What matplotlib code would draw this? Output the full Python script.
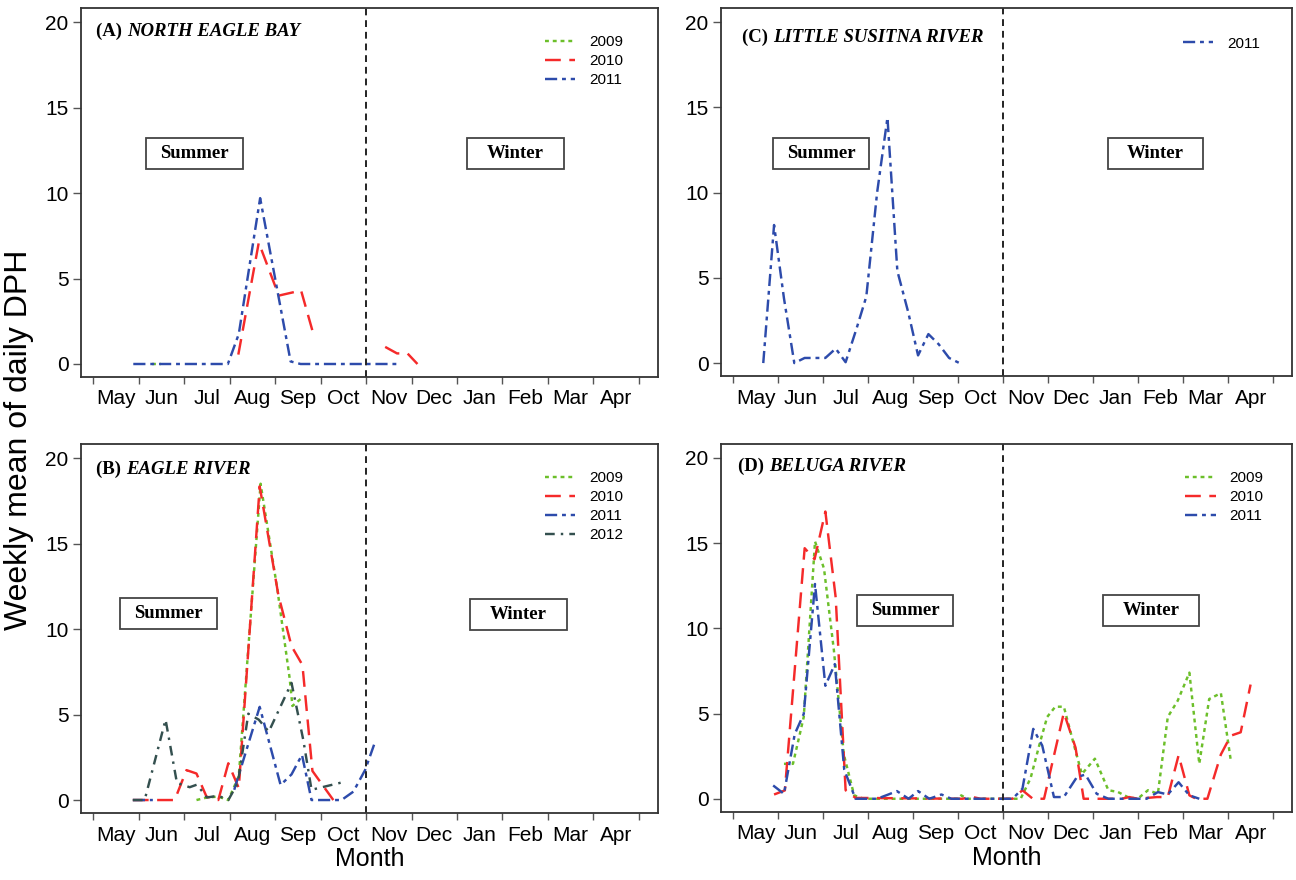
import numpy as np
import matplotlib.pyplot as plt
from matplotlib.patches import Rectangle

plt.rcParams['font.family'] = ['Liberation Sans', 'DejaVu Sans']

nan = np.nan

# ---- data: x = months since 1 May, y = weekly mean of daily DPH ----
month_labels = ['May', 'Jun', 'Jul', 'Aug', 'Sep', 'Oct',
                'Nov', 'Dec', 'Jan', 'Feb', 'Mar', 'Apr']
y_ticks = [0, 5, 10, 15, 20]

# (A) North Eagle Bay
a09_x = [1.29, 1.49]
a09_y = [0, 0]
a10_x = [3.19, 3.64, 4.08, 4.57, 4.82, nan, 6.42, 6.68, 6.91, 7.13]
a10_y = [0.55, 7.1, 4.0, 4.3, 1.95, nan, 1.0, 0.62, 0.62, 0.0]
a11_x = [0.88, 2.96, 3.20, 3.67, 4.34, 4.56, 6.68]
a11_y = [0, 0, 1.75, 9.7, 0.15, 0, 0]

# (B) Eagle River
b09_x = [2.27, 2.5, 2.75, 2.97, 3.2, 3.68, 4.05, 4.32, 4.38, 4.6]
b09_y = [0, 0.15, 0.2, 0, 1.4, 18.5, 12.3, 7.1, 5.5, 6.0]
b10_x = [0.87, 1.79, 2.05, 2.27, 2.49, 2.75, 2.97, 3.2, 3.66, 4.07, 4.36,
         4.6, 4.82, 5.28]
b10_y = [0, 0, 1.75, 1.55, 0.2, 0, 2.15, 0.7, 18.35, 12.0, 9.0,
         7.9, 1.7, 0]
b11_x = [0.87, 1.31, nan, 3.1, 3.66, 4.12, 4.36, 4.59, 4.8, 5.46, 5.72,
         5.98, 6.2]
b11_y = [0, 0, nan, 0.6, 5.45, 0.88, 1.5, 2.64, 0, 0, 0.49,
         1.76, 3.42]
b12_x = [0.87, 1.13, 1.59, 1.84, 2.12, 2.28, 2.5, 2.75, 2.97, 3.18, 3.41,
         3.64, 3.86, 4.36, 4.62, 4.8, 5.5]
b12_y = [0, 0, 4.7, 1.0, 0.75, 0.9, 0.15, 0.25, 0, 1.0, 5.05,
         4.7, 4.0, 6.85, 3.5, 0.6, 1.05]

# (C) Little Susitna River
c11_x = [0.67, 0.91, 1.13, 1.36, 1.59, 1.82, 2.05, 2.28, 2.5, 2.74, 2.96,
         3.2, 3.43, 3.65, 3.89, 4.11, 4.34, 4.57, 4.8, 5.03]
c11_y = [0, 8.1, 3.8, 0, 0.3, 0.3, 0.3, 0.85, 0.05, 2.0, 3.9,
         10.0, 14.4, 5.4, 3.0, 0.45, 1.7, 1.1, 0.3, 0.0]

# (D) Beluga River
d09_x = [1.13, 1.33, 1.57, 1.82, 2.02, 2.24, 2.46, 2.69, 2.9, 5.0, 5.07,
         5.2, 6.39, 6.61, 6.83, 6.98, 7.16, 7.35, 7.57, 7.75, 8.04, 8.34,
         8.55, 8.77, 8.99, 9.22, 9.44, 9.66, 9.88, 10.14, 10.36, 10.58,
         10.84, 11.06]
d09_y = [2.05, 2.05, 4.8, 15.1, 13.5, 8.7, 2.6, 0.2, 0, 0, 0.2,
         0, 0, 1.2, 3.4, 4.8, 5.4, 5.4, 3.2, 1.45, 2.35, 0.5,
         0.4, 0.1, 0, 0.5, 0.3, 4.8, 5.75, 7.4, 2.05, 5.85,
         6.2, 2.25]
d10_x = [0.91, 1.15, 1.59, 1.81, 2.05, 2.28, 2.5, 2.72, 5.1, 5.29, 5.5,
         6.21, 6.43, 6.66, 6.91, 7.35, 7.61, 7.79, 8.64, 8.8, 8.99, 9.42,
         9.66, 9.9, 10.14, 10.29, 10.54, 10.84, 11.06, 11.28, 11.5]
d10_y = [0.25, 0.49, 14.7, 14.05, 16.85, 11.8, 0.5, 0.05, 0, 0.12, 0,
         0, 0.5, 0, 0, 5.05, 3.0, 0, 0, 0.1, 0, 0.1,
         0.1, 2.55, 0.2, 0, 0, 2.6, 3.7, 3.9, 6.7]
d11_x = [0.89, 1.13, 1.37, 1.57, 1.82, 2.05, 2.26, 2.47, 2.72, 3.2, 3.45,
         3.64, 3.9, 4.11, 4.36, 4.63, 4.85, 6.21, 6.43, 6.67, 6.87, 7.13,
         7.35, 7.64, 7.83, 8.08, 8.34, 9.19, 9.44, 9.66, 9.9, 10.14, 10.36]
d11_y = [0.78, 0.29, 3.8, 4.98, 12.6, 6.63, 7.9, 1.7, 0, 0, 0.25,
         0.45, 0, 0.45, 0, 0.25, 0, 0, 0.59, 4.1, 3.12, 0.1,
         0.1, 1.27, 1.42, 0.29, 0, 0, 0.39, 0.25, 0.97, 0.2, 0]

# ---- styles ----
styles = {
    '2009': dict(color='#6cbf2a', linestyle=(0, (1.6, 1.6))),
    '2010': dict(color='#f52a2a', linestyle=(0, (6.5, 3.5))),
    '2011': dict(color='#2d4bab', linestyle=(0, (5, 2, 1.6, 2))),
    '2012': dict(color='#34504f', linestyle=(0, (4, 2.5, 1, 2.5))),
}
serif = ['Liberation Serif', 'DejaVu Serif']

fig = plt.figure(figsize=(12.96, 8.8), dpi=100)


def panel(rect, series, tag, name, title_xy, summer_xy, winter_xy, leg_xy,
          xlabel=False):
    ax = fig.add_axes(rect)
    lines = []
    for year, xs, ys in series:
        ln, = ax.plot(xs, ys, lw=1.75, label=year, **styles[year])
        lines.append(ln)
    ax.axvline(6, color='#222222', lw=1.4, linestyle=(0, (3.5, 2.5)))

    ax.set_xlim(-0.27, 12.42)
    ax.set_ylim(-0.76, 20.82)
    ax.set_xticks(range(13))
    ax.set_xticklabels([])
    ax.set_xticks(np.arange(12) + 0.5, minor=True)
    ax.set_xticklabels(month_labels, minor=True)
    ax.tick_params(axis='x', which='major', length=5, width=1, color='#555555')
    ax.tick_params(axis='x', which='minor', length=0, pad=9, labelsize=15)
    ax.set_yticks(y_ticks)
    ax.tick_params(axis='y', length=6, width=1, color='#555555', pad=3,
                   labelsize=15)
    for s in ax.spines.values():
        s.set_color('#333333')
        s.set_linewidth(1.3)

    t1 = ax.text(title_xy[0], title_xy[1], tag + ' ', transform=ax.transAxes,
                 family=serif, fontweight='bold', fontsize=13.5, va='center')
    ax.annotate(name, xy=(1, 0), xycoords=t1, va='bottom', ha='left',
                family=serif, fontweight='bold', style='italic', fontsize=13.5)

    for (bx, by), word in [(summer_xy, 'Summer'), (winter_xy, 'Winter')]:
        ax.add_patch(Rectangle((bx, by), 0.168, 0.084, transform=ax.transAxes,
                               facecolor='white', edgecolor='#444444', lw=1.3))
        ax.text(bx + 0.084, by + 0.042, word, transform=ax.transAxes,
                ha='center', va='center', family=serif, fontweight='bold',
                fontsize=13.5)

    ax.legend(handles=lines, loc='upper left', bbox_to_anchor=leg_xy,
              frameon=False, fontsize=11, handlelength=2.0,
              handletextpad=0.9, labelspacing=0.32, borderpad=0,
              borderaxespad=0)
    if xlabel:
        ax.set_xlabel('Month', fontsize=18, labelpad=2)
    return ax


panel([0.0625, 0.5716, 0.4452, 0.4193],
      [('2009', a09_x, a09_y), ('2010', a10_x, a10_y), ('2011', a11_x, a11_y)],
      '(A)', 'NORTH EAGLE BAY', (0.026, 0.938),
      (0.1127, 0.5637), (0.669, 0.5637), (0.804, 0.926))

panel([0.0625, 0.0761, 0.4452, 0.4193],
      [('2009', b09_x, b09_y), ('2010', b10_x, b10_y), ('2011', b11_x, b11_y),
       ('2012', b12_x, b12_y)],
      '(B)', 'EAGLE RIVER', (0.026, 0.932),
      (0.0676, 0.4986), (0.674, 0.496), (0.804, 0.926), xlabel=True)

panel([0.5563, 0.5727, 0.4406, 0.418],
      [('2011', c11_x, c11_y)],
      '(C)', 'LITTLE SUSITNA RIVER', (0.037, 0.921),
      (0.092, 0.5625), (0.677, 0.5625), (0.809, 0.923))

panel([0.5563, 0.0776, 0.4406, 0.418],
      [('2009', d09_x, d09_y), ('2010', d10_x, d10_y), ('2011', d11_x, d11_y)],
      '(D)', 'BELUGA RIVER', (0.03, 0.9376),
      (0.239, 0.506), (0.669, 0.506), (0.8126, 0.926), xlabel=True)

fig.text(0.015, 0.5, 'Weekly mean of daily DPH', rotation=90, fontsize=23,
         ha='center', va='center')

fig.savefig('out.png', dpi=100)
